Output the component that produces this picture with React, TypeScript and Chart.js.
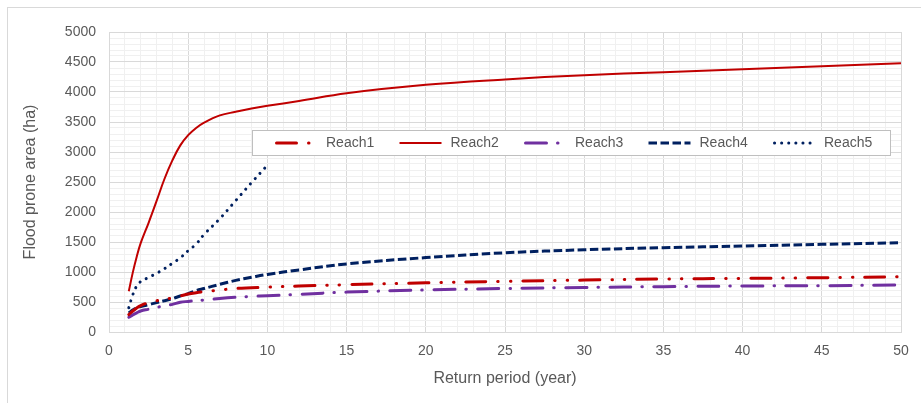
import React, { useEffect, useRef } from "react";
import { Chart, registerables } from "chart.js";

Chart.register(...registerables);

// ---- Data ----
const returnPeriods = [1.25, 1.5, 1.75, 2, 2.5, 3, 3.5, 4, 4.5, 5, 5.5, 6, 7, 8, 9, 10, 12, 15, 20, 25, 30, 35, 40, 45, 50];
const reach1 = [290, 350, 400, 440, 490, 520, 550, 567, 600, 633, 655, 672, 700, 725, 737, 748, 765, 788, 820, 845, 865, 883, 894, 905, 922];
const reach2 = [680, 990, 1255, 1480, 1820, 2180, 2550, 2860, 3110, 3280, 3400, 3490, 3610, 3670, 3725, 3770, 3850, 3980, 4120, 4210, 4280, 4330, 4380, 4430, 4480];
const reach3 = [245, 285, 320, 350, 380, 410, 435, 460, 495, 510, 522, 533, 560, 580, 593, 605, 628, 665, 700, 725, 742, 756, 767, 772, 783];
const reach4 = [317, 365, 400, 425, 455, 490, 520, 555, 600, 640, 690, 725, 795, 860, 912, 960, 1035, 1135, 1240, 1320, 1370, 1406, 1433, 1461, 1489];
const reach5 = [405, 620, 767, 840, 910, 978, 1055, 1145, 1235, 1356, 1465, 1625, 1890, 2190, 2490, 2780, null, null, null, null, null, null, null, null, null];
const seriesNames = ["Reach1", "Reach2", "Reach3", "Reach4", "Reach5"];
const seriesValues = [reach1, reach2, reach3, reach4, reach5];
const yAxisTitle = "Flood prone area (ha)";
const xAxisTitle = "Return period (year)";

// ---- Styles ----
const FONT = "'Liberation Sans', Arial, sans-serif";
const TEXT = "#595959";
const styles = [
  { color: "#C00000", width: 3, dash: [20, 12, 0.5, 12, 0.5, 12], cap: "round" },
  { color: "#C00000", width: 2, dash: [], cap: "butt" },
  { color: "#7030A0", width: 3, dash: [21, 11, 0.5, 11.5], cap: "round" },
  { color: "#002060", width: 3, dash: [8.5, 3.5], cap: "butt" },
  { color: "#002060", width: 3, dash: [0.1, 7], cap: "round" },
];

const frameAndLegend = {
  id: "frameAndLegend",
  beforeDraw(chart: any) {
    const ctx = chart.ctx;
    ctx.save();
    ctx.fillStyle = "#ffffff";
    ctx.fillRect(0, 0, chart.width, chart.height);
    ctx.strokeStyle = "#D9D9D9";
    ctx.lineWidth = 1;
    ctx.strokeRect(7.5, 7.5, 2000, 2000);
    ctx.restore();
  },
  afterDraw(chart: any) {
    const ctx = chart.ctx;
    ctx.save();
    const bx = 252.5, by = 130.5, bw = 638, bh = 25;
    ctx.fillStyle = "#ffffff";
    ctx.fillRect(bx, by, bw, bh);
    ctx.strokeStyle = "#BFBFBF";
    ctx.lineWidth = 1;
    ctx.strokeRect(bx, by, bw, bh);
    const cy = by + bh / 2;
    ctx.font = `14px ${FONT}`;
    ctx.textBaseline = "middle";
    ctx.textAlign = "left";
    seriesNames.forEach((name, i) => {
      const s = styles[i];
      const x0 = 275 + i * 124.5;
      ctx.save();
      ctx.beginPath();
      ctx.strokeStyle = s.color;
      ctx.lineWidth = s.width;
      ctx.lineCap = s.cap;
      ctx.setLineDash(s.dash);
      ctx.moveTo(x0 + (s.cap === "round" ? 1.5 : 0), cy);
      ctx.lineTo(x0 + 42, cy);
      ctx.stroke();
      ctx.restore();
      ctx.fillStyle = TEXT;
      ctx.fillText(name, x0 + 51, cy + 0.5);
    });
    ctx.restore();
  },
};

export default function App() {
  const ref = useRef<HTMLCanvasElement>(null);
  useEffect(() => {
    if (!ref.current) return;
    const datasets = seriesNames.map((name, i) => ({
      label: name,
      data: returnPeriods
        .map((x, j) => ({ x, y: seriesValues[i][j] }))
        .filter((p) => p.y !== null),
      borderColor: styles[i].color,
      backgroundColor: styles[i].color,
      borderWidth: styles[i].width,
      borderDash: styles[i].dash,
      borderCapStyle: styles[i].cap as CanvasLineCap,
      pointRadius: 0,
      tension: 0.4,
      fill: false,
    }));
    const chart = new Chart(ref.current, {
      type: "line",
      data: { datasets },
      options: {
        animation: false,
        responsive: true,
        maintainAspectRatio: false,
        devicePixelRatio: 1,
        layout: { padding: { top: 32, right: 20, left: 0, bottom: 0 } },
        plugins: { legend: { display: false }, tooltip: { enabled: false } },
        scales: {
          x: {
            type: "linear",
            min: 0,
            max: 50,
            afterFit: (s: any) => { s.height = 71; },
            grid: {
              drawTicks: false,
              color: (c: any) => (c.tick && c.tick.value % 5 === 0 ? "#D9D9D9" : "#F0F0F0"),
            },
            border: { color: "#D9D9D9" },
            ticks: {
              stepSize: 1,
              autoSkip: false,
              maxRotation: 0,
              padding: 11,
              color: TEXT,
              font: { family: FONT, size: 14 },
              callback: (v: any) => (v % 5 === 0 ? String(v) : ""),
            },
            title: {
              display: true,
              text: xAxisTitle,
              color: TEXT,
              font: { family: FONT, size: 16 },
              padding: { top: 0, bottom: 15 },
            },
          },
          y: {
            type: "linear",
            min: 0,
            max: 5000,
            afterFit: (s: any) => { s.width = 109; },
            grid: {
              drawTicks: false,
              color: (c: any) => (c.tick && c.tick.value % 500 === 0 ? "#D9D9D9" : "#F0F0F0"),
            },
            border: { color: "#D9D9D9" },
            ticks: {
              stepSize: 100,
              autoSkip: false,
              padding: 13,
              color: TEXT,
              font: { family: FONT, size: 14 },
              callback: (v: any) => (v % 500 === 0 ? String(v) : ""),
            },
            title: {
              display: true,
              text: yAxisTitle,
              color: TEXT,
              font: { family: FONT, size: 16 },
              padding: { top: 21, bottom: 0 },
            },
          },
        },
      },
      plugins: [frameAndLegend],
    });
    return () => chart.destroy();
  }, []);
  return (
    <div style={{ position: "fixed", left: 0, top: 0, width: 921, height: 403, background: "#fff" }}>
      <canvas ref={ref} width={921} height={403} />
    </div>
  );
}
